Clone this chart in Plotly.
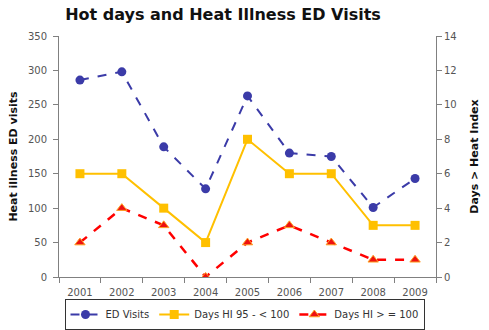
import plotly.graph_objects as go

years = ["2001", "2002", "2003", "2004", "2005", "2006", "2007", "2008", "2009"]
ed_visits = [286, 298, 189, 128, 263, 180, 175, 101, 143]
days_hi_95_100 = [6, 6, 4, 2, 8, 6, 6, 3, 3]
days_hi_100 = [2, 4, 3, 0, 2, 3, 2, 1, 1]

font_family = "DejaVu Sans, Verdana, sans-serif"

fig = go.Figure()
fig.add_trace(go.Scatter(
    x=years, y=ed_visits, name="ED Visits", mode="lines+markers",
    line=dict(color="#3B3BA8", width=2, dash="dash"),
    marker=dict(symbol="circle", size=9, color="#3B3BA8"),
))
fig.add_trace(go.Scatter(
    x=years, y=days_hi_95_100, name="Days HI 95 - < 100", mode="lines+markers",
    yaxis="y2",
    line=dict(color="#FFC000", width=2),
    marker=dict(symbol="square", size=9, color="#FFC000"),
))
fig.add_trace(go.Scatter(
    x=years, y=days_hi_100, name="Days HI > = 100", mode="lines+markers",
    yaxis="y2",
    line=dict(color="#FF0000", width=2.5, dash="dash"),
    marker=dict(symbol="triangle-up", size=9, color="#EE1111",
                line=dict(color="#FFA020", width=1)),
))

axis_common = dict(
    showline=True, linecolor="#808080", linewidth=1,
    ticks="outside", tickcolor="#808080", ticklen=5,
    showgrid=False, zeroline=False,
    tickfont=dict(family=font_family, size=10, color="#555555"),
)

fig.update_layout(
    width=489, height=330,
    paper_bgcolor="white", plot_bgcolor="white",
    margin=dict(l=59, r=53, t=36, b=53, autoexpand=False),
    title=dict(text="<b>Hot days and Heat Illness ED Visits</b>",
               font=dict(family=font_family, size=16, color="#111111"),
               x=0.456, xanchor="center", y=0.955, yanchor="middle"),
    xaxis=dict(**axis_common, tickson="boundaries", range=[-0.5, 8.5],
               ticklabelstandoff=6),
    yaxis=dict(**axis_common, range=[0, 350], dtick=50, ticklabelstandoff=4,
               title=dict(text="<b>Heat illness ED visits</b>",
                          font=dict(family=font_family, size=11, color="#111111"),
                          standoff=8)),
    yaxis2=dict(**axis_common, overlaying="y", side="right", range=[0, 14], dtick=2,
                title=dict(text="<b>Days > Heat Index</b>",
                           font=dict(family=font_family, size=11, color="#111111"),
                           standoff=14)),
    legend=dict(orientation="h", xref="container", yref="container",
                x=0.5, xanchor="center", y=0.0, yanchor="bottom",
                bordercolor="#333333", borderwidth=1,
                font=dict(family=font_family, size=10, color="#333333"),
                itemwidth=30, tracegroupgap=0),
    showlegend=True,
)

fig.write_html("out.html")
